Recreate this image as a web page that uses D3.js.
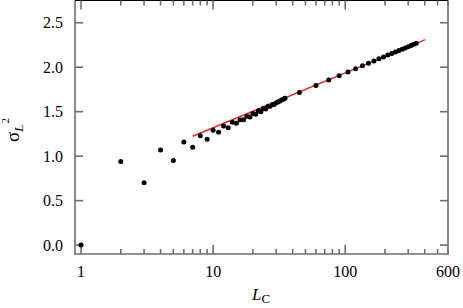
<!DOCTYPE html>
<html>
<head>
<meta charset="utf-8">
<script src="https://cdnjs.cloudflare.com/ajax/libs/d3/7.8.5/d3.min.js"></script>
<style>
  body { margin: 0; background: #fff; }
</style>
</head>
<body>
<svg id="chart" width="463" height="308"></svg>
<script>
// Data
var lcValues = [1, 2, 3, 4, 5, 6, 7, 8, 9, 10, 11, 12, 13, 14, 15, 16, 17, 18, 19, 20,
  21, 22, 23, 24, 25, 26, 27, 28, 29, 30, 31, 32, 33, 34, 35,
  45, 60, 75, 90, 105, 120, 135, 150, 165, 180, 195, 210, 225, 240, 255, 270, 285, 300, 315, 330, 345];
var sigmaValues = [0.00, 0.94, 0.70, 1.07, 0.95, 1.16, 1.10, 1.23, 1.19, 1.29, 1.27, 1.34, 1.32, 1.38, 1.37, 1.41, 1.41, 1.45, 1.44, 1.48,
  1.47, 1.51, 1.50, 1.54, 1.53, 1.56, 1.56, 1.58, 1.58, 1.60, 1.61, 1.62, 1.63, 1.64, 1.65,
  1.715, 1.795, 1.855, 1.905, 1.947, 1.984, 2.016, 2.045, 2.07, 2.094, 2.115, 2.136, 2.154, 2.172, 2.188, 2.203, 2.217, 2.231, 2.244, 2.257, 2.269];

// fitted line end points
var fitL = [7, 404];
var fitSigma = [1.224, 2.311];

var yTicks = [0, 0.5, 1.0, 1.5, 2.0, 2.5];
var xMajorTicks = [1, 10, 100];
var xMinorTicks = [2, 3, 4, 5, 6, 7, 8, 9, 20, 30, 40, 50, 60, 70, 80, 90, 200, 300, 400, 500, 600];
var xTickLabels = [1, 10, 100, 600];

var LEFT = 75, RIGHT = 448, TOP = 0.5, BOTTOM = 254;
var AXIS_COLOR = "#6e6e6e";
var FONT = "'Liberation Serif', 'Times New Roman', Times, serif";

var svg = d3.select("#chart");

var xScale = d3.scaleLog()
    .domain([0.9, 600])
    .range([LEFT, RIGHT]);

var yScale = d3.scaleLinear()
    .domain([-0.1, 2.75])
    .range([BOTTOM, TOP]);

// ##### Frame #####
svg.append("line").attr("x1", LEFT).attr("x2", LEFT).attr("y1", TOP).attr("y2", BOTTOM)
  .attr("stroke", AXIS_COLOR).attr("stroke-width", 1.6);
svg.append("line").attr("x1", RIGHT).attr("x2", RIGHT).attr("y1", TOP).attr("y2", BOTTOM)
  .attr("stroke", AXIS_COLOR).attr("stroke-width", 1.6);
svg.append("line").attr("x1", LEFT - 0.8).attr("x2", RIGHT + 0.8).attr("y1", BOTTOM).attr("y2", BOTTOM)
  .attr("stroke", AXIS_COLOR).attr("stroke-width", 1.6);
svg.append("line").attr("x1", LEFT).attr("x2", RIGHT).attr("y1", TOP).attr("y2", TOP)
  .attr("stroke", "#000").attr("stroke-width", 1.2);

// ##### Ticks #####
var ticks = svg.append("g").attr("stroke", AXIS_COLOR).attr("stroke-width", 1.6);

yTicks.forEach(function (v) {
  var y = yScale(v);
  ticks.append("line").attr("x1", LEFT).attr("x2", LEFT + 8).attr("y1", y).attr("y2", y);
  ticks.append("line").attr("x1", RIGHT).attr("x2", RIGHT - 8).attr("y1", y).attr("y2", y);
});

xMajorTicks.forEach(function (v) {
  var x = xScale(v);
  ticks.append("line").attr("x1", x).attr("x2", x).attr("y1", BOTTOM).attr("y2", BOTTOM - 9);
  ticks.append("line").attr("x1", x).attr("x2", x).attr("y1", TOP).attr("y2", TOP + 9);
});

xMinorTicks.forEach(function (v) {
  var x = xScale(v);
  ticks.append("line").attr("x1", x).attr("x2", x).attr("y1", BOTTOM).attr("y2", BOTTOM - 5);
  ticks.append("line").attr("x1", x).attr("x2", x).attr("y1", TOP).attr("y2", TOP + 5);
});

// ##### Tick labels #####
svg.append("g").selectAll("text")
  .data(yTicks)
  .enter()
  .append("text")
  .attr("x", 63)
  .attr("y", function (d) { return yScale(d) + 5.5; })
  .attr("text-anchor", "end")
  .attr("font-family", FONT)
  .attr("font-size", 16)
  .text(function (d) { return d3.format(".1f")(d); });

svg.append("g").selectAll("text")
  .data(xTickLabels)
  .enter()
  .append("text")
  .attr("x", function (d) { return xScale(d); })
  .attr("y", 277)
  .attr("text-anchor", "middle")
  .attr("font-family", FONT)
  .attr("font-size", 16)
  .text(function (d) { return d; });

// ##### Axis titles #####
var xTitle = svg.append("text")
  .attr("x", 252)
  .attr("y", 300)
  .attr("font-family", FONT)
  .attr("font-size", 17);
xTitle.append("tspan").attr("font-style", "italic").text("L");
xTitle.append("tspan").attr("dy", 3).attr("font-size", 13).text("C");

var yTitle = svg.append("text")
  .attr("transform", "translate(18.5, 142) rotate(-90)")
  .attr("font-family", FONT)
  .attr("font-size", 19);
yTitle.append("tspan").text("σ");
yTitle.append("tspan").attr("dy", 4).attr("font-size", 13).attr("font-style", "italic").text("L");
yTitle.append("tspan").attr("dy", -14).attr("dx", 1).attr("font-size", 11).text("2");

// ##### Fit line #####
svg.append("line")
  .attr("x1", xScale(fitL[0]))
  .attr("y1", yScale(fitSigma[0]))
  .attr("x2", xScale(fitL[1]))
  .attr("y2", yScale(fitSigma[1]))
  .attr("stroke", "#e8262a")
  .attr("stroke-width", 1.4);

// ##### Points #####
svg.append("g").selectAll("circle")
  .data(lcValues)
  .enter()
  .append("circle")
  .attr("cx", function (d) { return xScale(d); })
  .attr("cy", function (d, i) { return yScale(sigmaValues[i]); })
  .attr("r", 2.5)
  .attr("fill", "#000");
</script>
</body>
</html>
